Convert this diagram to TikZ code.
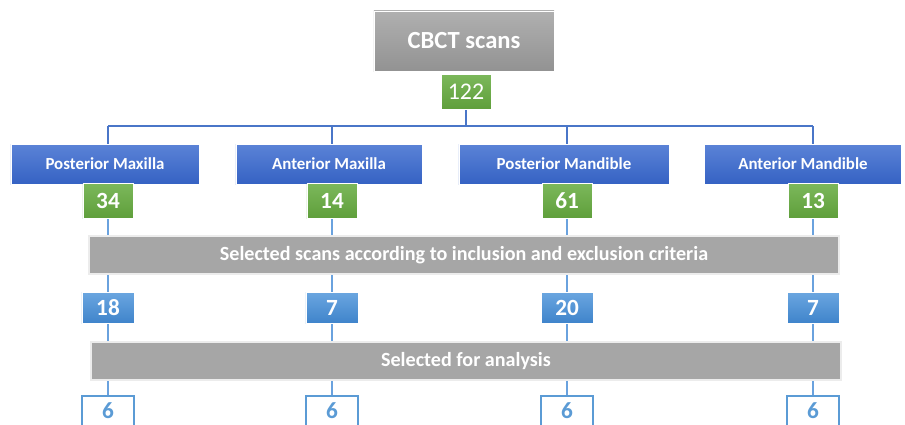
\documentclass[tikz,border=0pt]{standalone}
\usepackage{fontspec}
\setmainfont{Carlito}
\usetikzlibrary{backgrounds}

\definecolor{headTop}{HTML}{B0B0B0}
\definecolor{headBot}{HTML}{929292}
\definecolor{countTop}{HTML}{7CB85B}
\definecolor{countBot}{HTML}{5F9F3B}
\definecolor{regionTop}{HTML}{5B83D7}
\definecolor{regionBot}{HTML}{3562C3}
\definecolor{keptTop}{HTML}{6BA6E0}
\definecolor{keptBot}{HTML}{3F84CB}
\definecolor{barGray}{HTML}{A6A6A6}
\definecolor{busBlue}{HTML}{4A76C8}
\definecolor{lineBlue}{HTML}{6AA2DE}
\definecolor{finalBlue}{HTML}{5B9BD5}

\tikzset{
  headbox/.style={top color=headTop, bottom color=headBot, draw=white, line width=0.6pt,
    text=white, font=\fontsize{17.5}{20}\selectfont\bfseries,
    minimum width=4.5cm, minimum height=1.5cm},
  regionbox/.style={top color=regionTop, bottom color=regionBot, draw=white, line width=0.4pt,
    text=white, font=\fontsize{12}{14}\selectfont\bfseries, minimum height=1cm},
  countbox/.style={top color=countTop, bottom color=countBot, draw=white, line width=0.4pt,
    text=white, font=\fontsize{16.5}{18}\selectfont\bfseries,
    minimum width=1.25cm, minimum height=0.875cm},
  filterbar/.style={fill=barGray, draw=white!85!gray, line width=1.5pt,
    text=white, font=\fontsize{14.3}{16}\selectfont\bfseries,
    minimum width=18.75cm, minimum height=0.95cm},
  keptbox/.style={top color=keptTop, bottom color=keptBot, draw=white, line width=0.4pt,
    text=white, font=\fontsize{16.5}{18}\selectfont\bfseries,
    minimum width=1.3cm, minimum height=0.775cm},
  finalbox/.style={fill=white, draw=finalBlue, line width=0.9pt,
    text=finalBlue, font=\fontsize{16.5}{18}\selectfont\bfseries,
    minimum width=1.3cm, minimum height=0.75cm},
  buslink/.style={draw=busBlue, line width=1pt},
  stagelink/.style={draw=lineBlue, line width=1pt}
}

\begin{document}
\begin{tikzpicture}[x=0.025cm, y=-0.025cm]
\useasboundingbox (0,0) rectangle (905,424);
\clip (0,0) rectangle (905,424);

% top of the tree
\node[headbox] (cbct) at (464,41) {CBCT scans};
\node[countbox, font=\fontsize{17}{18}\selectfont] (total) at (466,91.5) {122};

% regions
\node[regionbox, minimum width=4.7cm]  (pmx) at (105,164) {Posterior Maxilla};
\node[regionbox, minimum width=4.65cm] (amx) at (329,164) {Anterior Maxilla};
\node[regionbox, minimum width=5.25cm] (pmd) at (564,164) {Posterior Mandible};
\node[regionbox, minimum width=4.93cm] (amd) at (803,164) {Anterior Mandible};

\node[countbox] (npmx) at (108,200.5) {34};
\node[countbox] (namx) at (332,200.5) {14};
\node[countbox] (npmd) at (567,200.5) {61};
\node[countbox] (namd) at (813,200.5) {13};

% selection steps
\node[filterbar] (criteria) at (464,255) {Selected scans according to inclusion and exclusion criteria};

\node[keptbox] (kpmx) at (108,307.5) {18};
\node[keptbox] (kamx) at (332,307.5) {7};
\node[keptbox] (kpmd) at (567,307.5) {20};
\node[keptbox] (kamd) at (813,307.5) {7};

\node[filterbar] (analysis) at (466,361) {Selected for analysis};

\node[finalbox] (fpmx) at (108,411) {6};
\node[finalbox] (famx) at (332,411) {6};
\node[finalbox] (fpmd) at (567,411) {6};
\node[finalbox] (famd) at (813,411) {6};

\begin{scope}[on background layer]
\coordinate (bus) at (0,126);
\draw[buslink] (total.south) -- (total.south |- bus);
\draw[buslink] (npmx |- bus) -- (namd |- bus);
\foreach \c in {pmx,amx,pmd,amd} {
  \draw[buslink] (n\c |- bus) -- (n\c |- \c.north);
  \draw[stagelink] (n\c.south) -- (k\c.north);
  \draw[stagelink] (k\c.south) -- (f\c.north);
}
\end{scope}
\end{tikzpicture}
\end{document}
